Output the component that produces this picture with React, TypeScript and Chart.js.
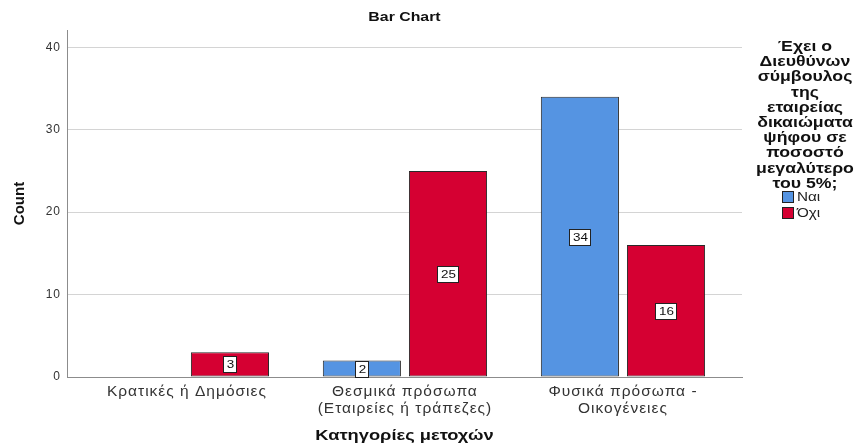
import React, { useEffect, useRef } from "react";
import { Chart, registerables } from "chart.js";

Chart.register(...registerables);

const categories: string[][] = [
  ["Κρατικές ή Δημόσιες"],
  ["Θεσμικά πρόσωπα", "(Εταιρείες ή τράπεζες)"],
  ["Φυσικά πρόσωπα -", "Οικογένειες"],
];
const seriesNames: string[] = ["Ναι", "Όχι"];
const yesValues: (number | null)[] = [null, 2, 34];
const noValues: (number | null)[] = [3, 25, 16];
const yTicks: number[] = [0, 10, 20, 30, 40];
const legendTitleLines: string[] = [
  "Έχει ο",
  "Διευθύνων",
  "σύμβουλος",
  "της",
  "εταιρείας",
  "δικαιώματα",
  "ψήφου σε",
  "ποσοστό",
  "μεγαλύτερο",
  "του 5%;",
];
const chartTitle = "Bar Chart";
const xTitle = "Κατηγορίες μετοχών";
const yTitle = "Count";

const BLUE = "#5594E2";
const RED = "#D50032";
const FONT = "'Liberation Sans', Arial, sans-serif";
const STRETCH = 1.22;

function stretchedText(ctx: CanvasRenderingContext2D, txt: string, x: number, y: number, sx = STRETCH) {
  ctx.save();
  ctx.translate(x, y);
  ctx.scale(sx, 1);
  ctx.fillText(txt, 0, 0);
  ctx.restore();
}

const overlay = {
  id: "overlay",
  beforeDraw(chart: any) {
    (chart.ctx as any).letterSpacing = "1px";
  },
  beforeDatasetsDraw(chart: any) {
    (chart.ctx as any).letterSpacing = "0px";
  },
  afterDatasetsDraw(chart: any) {
    const ctx = chart.ctx as CanvasRenderingContext2D;
    ctx.save();
    chart.data.datasets.forEach((ds: any, di: number) => {
      const meta = chart.getDatasetMeta(di);
      meta.data.forEach((bar: any, i: number) => {
        const raw = ds.data[i];
        const v = raw ? raw.y : null;
        if (v === null || v === undefined) return;
        const cx = Math.round(bar.x);
        const cy = Math.round((bar.y + bar.base) / 2);
        ctx.font = `11px ${FONT}`;
        const txt = String(v);
        const w = Math.round(ctx.measureText(txt).width * STRETCH + 6);
        const h = 16;
        const x0 = cx - Math.round(w / 2) + 0.5;
        const y0 = cy - h / 2 + 0.5;
        ctx.fillStyle = "#ffffff";
        ctx.fillRect(x0, y0, w, h);
        ctx.strokeStyle = "#222";
        ctx.lineWidth = 1;
        ctx.strokeRect(x0, y0, w, h);
        ctx.fillStyle = "#111";
        ctx.textAlign = "center";
        ctx.textBaseline = "middle";
        stretchedText(ctx, txt, cx + 0.5, cy + 1);
      });
    });
    ctx.restore();
  },
  afterDraw(chart: any) {
    const ctx = chart.ctx as CanvasRenderingContext2D;
    const area = chart.chartArea;
    ctx.save();
    (ctx as any).letterSpacing = "0px";
    ctx.fillStyle = "#111";
    ctx.textAlign = "center";
    ctx.textBaseline = "middle";
    ctx.font = `bold 13px ${FONT}`;
    stretchedText(ctx, chartTitle, (area.left + area.right) / 2, 17);
    ctx.font = `bold 15px ${FONT}`;
    stretchedText(ctx, xTitle, (area.left + area.right) / 2, 436);
    ctx.save();
    ctx.translate(20, (area.top + area.bottom) / 2);
    ctx.rotate(-Math.PI / 2);
    ctx.font = `bold 15px ${FONT}`;
    ctx.fillText(yTitle, 0, 0);
    ctx.restore();
    const lx = 805;
    ctx.font = `bold 14.5px ${FONT}`;
    legendTitleLines.forEach((line, i) => {
      stretchedText(ctx, line, lx, 47 + i * 15.2);
    });
    const colors = [BLUE, RED];
    seriesNames.forEach((name, i) => {
      const y = 191 + i * 16;
      ctx.fillStyle = colors[i];
      ctx.fillRect(782.5, y + 0.5, 11, 11);
      ctx.strokeStyle = "#222";
      ctx.lineWidth = 1;
      ctx.strokeRect(782.5, y + 0.5, 11, 11);
      ctx.fillStyle = "#222";
      ctx.textAlign = "left";
      ctx.font = `12.5px ${FONT}`;
      stretchedText(ctx, name, 797, y + 7);
    });
    ctx.restore();
  },
};

export default function App() {
  const ref = useRef<HTMLCanvasElement | null>(null);
  useEffect(() => {
    document.body.style.margin = "0";
    const canvas = ref.current!;
    const toPoints = (vals: (number | null)[]) => vals.map((v, i) => ({ x: i, y: v }));
    const chart = new Chart(canvas, {
      type: "bar",
      data: {
        datasets: [
          {
            label: seriesNames[0],
            data: toPoints(yesValues) as any,
            backgroundColor: BLUE,
            borderColor: "#2a2a2a",
            borderWidth: 1,
            borderSkipped: false,
          },
          {
            label: seriesNames[1],
            data: toPoints(noValues) as any,
            backgroundColor: RED,
            borderColor: "#2a2a2a",
            borderWidth: 1,
            borderSkipped: false,
          },
        ],
      },
      options: {
        animation: false,
        responsive: false,
        maintainAspectRatio: false,
        layout: { padding: { top: 30, right: 116, left: 0, bottom: 0 } },
        plugins: {
          legend: { display: false },
          title: { display: false },
          tooltip: { enabled: false },
        },
        datasets: {
          bar: { categoryPercentage: 0.79, barPercentage: 0.907, skipNull: false },
        },
        scales: {
          x: {
            type: "linear",
            offset: false,
            min: -0.55,
            max: 2.546,
            afterBuildTicks(scale: any) {
              scale.ticks = categories.map((_, i) => ({ value: i }));
            },
            grid: { display: false, drawTicks: false, tickLength: 0 },
            border: { display: true, color: "#8c8c8c", width: 1 },
            ticks: {
              font: { family: FONT, size: 15.5, lineHeight: 1.1 },
              color: "#333",
              padding: 6,
              maxRotation: 0,
              autoSkip: false,
              callback: (v: any) => categories[Number(v)] ?? "",
            },
            afterFit(scale: any) {
              scale.height = 68;
            },
          },
          y: {
            min: 0,
            max: 42.1,
            afterBuildTicks(scale: any) {
              scale.ticks = yTicks.map((v) => ({ value: v }));
            },
            grid: {
              color: (c: any) => (c.tick && c.tick.value === 0 ? "rgba(0,0,0,0)" : "#d4d4d4"),
              tickLength: 0,
              drawTicks: false,
            },
            border: { display: true, color: "#8c8c8c", width: 1 },
            ticks: {
              font: { family: FONT, size: 12 },
              color: "#333",
              padding: 6,
            },
            afterFit(scale: any) {
              scale.width = 67;
            },
          },
        },
      },
      plugins: [overlay],
    });
    return () => chart.destroy();
  }, []);
  return <canvas ref={ref} width={858} height={445} style={{ display: "block" }} />;
}
